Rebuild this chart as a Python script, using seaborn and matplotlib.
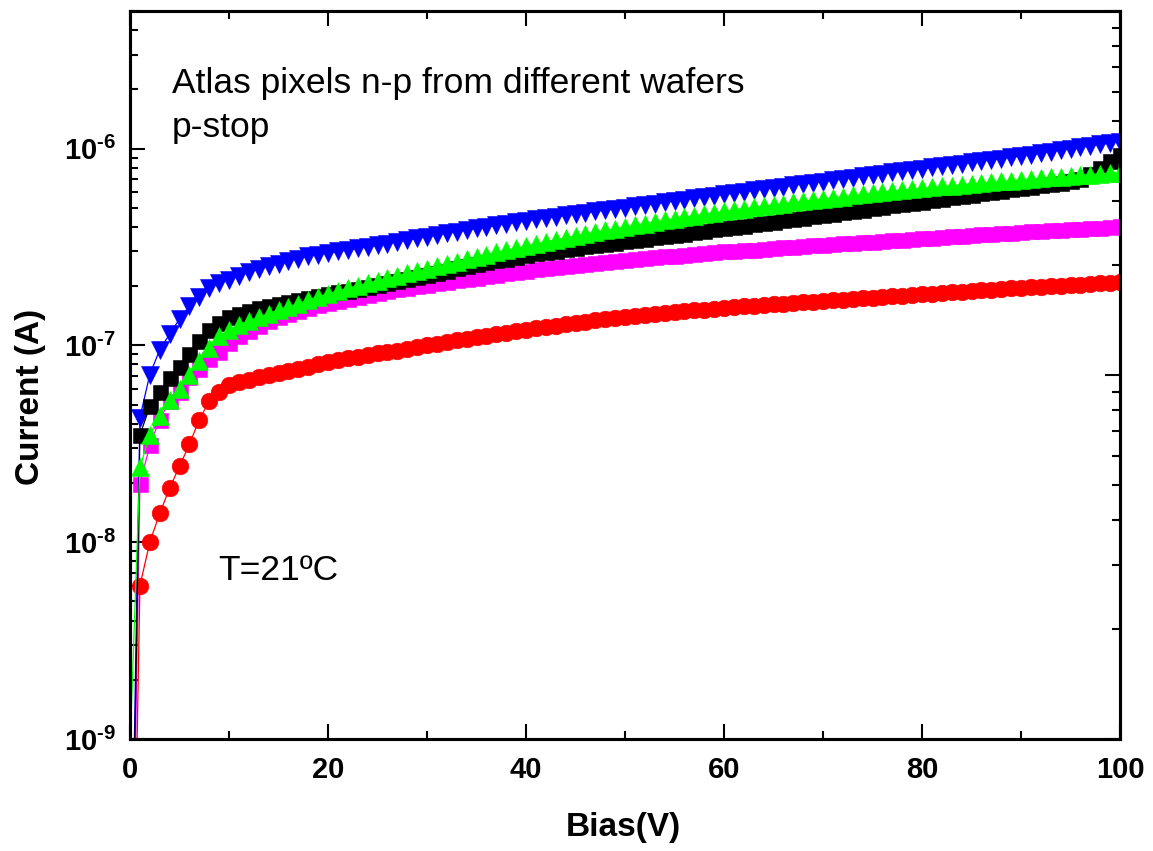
import numpy as np
import pandas as pd
import matplotlib
matplotlib.use("Agg")
import matplotlib.pyplot as plt
import seaborn as sns
from matplotlib.ticker import FixedLocator, LogLocator, MultipleLocator, NullFormatter

# ---------------- data (current in nA, bias in V) ----------------
bias_v = list(range(0, 101))

black_nA = [0.03, 35, 49, 58, 68, 78, 90, 105, 120, 130,
            140, 145, 150, 154, 158, 162, 166, 170, 174, 178,
            182, 186, 190, 194, 198, 203, 208, 213, 218, 223,
            228, 234, 240, 246, 252, 258, 264, 270, 276, 282,
            288, 293, 298, 303, 308, 313, 318, 323, 328, 333,
            338, 343, 348, 354, 359, 365, 370, 376, 382, 388,
            394, 400, 406, 412, 419, 425, 432, 439, 446, 453,
            460, 467, 475, 482, 490, 498, 506, 514, 522, 530,
            538, 547, 556, 565, 574, 583, 592, 602, 611, 621,
            631, 641, 651, 662, 672, 683, 700, 740, 795, 860,
            930]

red_nA = [0.01, 6.0, 10.0, 14.0, 18.8, 24.3, 31.4, 42, 52, 58,
          63, 65, 67, 69, 70.5, 72, 74, 76, 78, 80,
          82, 84, 86, 87.5, 89, 91, 92.5, 94, 96, 98,
          100, 102, 104, 106, 108, 110, 112, 114, 116, 118,
          120, 122, 124, 126, 128, 130, 132, 134, 136, 138,
          140, 141.5, 143, 144.5, 146, 147.5, 149, 150.5, 152, 153.5,
          155, 156.3, 157.6, 158.9, 160.2, 161.5, 162.8, 164.1, 165.4, 166.7,
          168, 169.4, 170.8, 172.2, 173.6, 175, 176.4, 177.8, 179.2, 180.6,
          182, 183.4, 184.8, 186.2, 187.6, 189, 190.4, 191.8, 193.2, 194.6,
          196, 197.3, 198.6, 199.9, 201.2, 202.5, 203.8, 205.1, 206.4, 207.7,
          209]

green_nA = [0.9, 24, 35, 44, 53, 60, 71, 83, 97, 111,
            120, 127, 133, 139, 145, 151, 157, 163, 170, 177,
            183, 189, 195, 201, 207, 213, 219, 225, 232, 238,
            245, 252, 259, 266, 274, 281, 289, 297, 304, 312,
            320, 328, 336, 344, 352, 360, 368, 376, 384, 392,
            400, 408, 416, 424, 432, 440, 448, 456, 464, 472,
            480, 488, 495, 503, 510, 518, 525, 533, 540, 548,
            555, 563, 570, 578, 585, 593, 600, 608, 615, 622,
            628, 635, 642, 648, 655, 661, 668, 675, 681, 688,
            695, 701, 707, 713, 719, 725, 731, 737, 743, 749,
            755]

blue_nA = [0.05, 43, 71, 95, 114, 136, 158, 177, 195, 207,
           216, 226, 235, 244, 252, 260, 268, 276, 283, 289,
           295, 300, 305, 311, 317, 323, 329, 336, 343, 350,
           357, 364, 371, 378, 385, 393, 400, 407, 415, 422,
           430, 437, 444, 451, 458, 465, 472, 479, 486, 493,
           500, 508, 516, 525, 533, 542, 550, 559, 567, 576,
           585, 594, 603, 613, 622, 632, 641, 651, 661, 670,
           680, 691, 701, 712, 723, 734, 745, 756, 767, 779,
           790, 802, 814, 826, 839, 851, 864, 877, 890, 903,
           916, 932, 948, 965, 981, 998, 1015, 1032, 1049, 1067,
           1085]

magenta_nA = [0.02, 19.7, 31, 42, 52, 58, 69, 76, 85, 93,
              103, 111, 119, 126, 133, 139, 145, 150, 155, 160,
              165, 169, 173, 177, 181, 185, 189, 193, 196, 200,
              203, 207, 210, 214, 217, 221, 224, 228, 232, 236,
              240, 243, 246, 250, 253, 256, 259, 262, 266, 269,
              272, 275, 278, 281, 284, 286, 289, 292, 295, 297,
              300, 302, 305, 307, 310, 312, 315, 317, 320, 322,
              325, 327, 330, 332, 335, 337, 340, 342, 345, 347,
              350, 353, 355, 358, 361, 364, 366, 369, 372, 374,
              377, 379, 382, 384, 387, 389, 392, 394, 397, 399,
              402]

y_tick_values = [1e-9, 1e-8, 1e-7, 1e-6]
y_tick_labels = [r"$\mathbf{10^{\text{-}9}}$", r"$\mathbf{10^{\text{-}8}}$",
                 r"$\mathbf{10^{\text{-}7}}$", r"$\mathbf{10^{\text{-}6}}$"]
x_tick_values = [0, 20, 40, 60, 80, 100]
x_tick_labels = ["0", "20", "40", "60", "80", "100"]

title_line1 = "Atlas pixels n-p from different wafers"
title_line2 = "p-stop"
temp_label = "T=21ºC"

# ---------------- style ----------------
sns.set_theme(style="ticks")
plt.rcParams["font.family"] = ["Liberation Sans", "DejaVu Sans"]
plt.rcParams["font.weight"] = "bold"
plt.rcParams["mathtext.fontset"] = "custom"
plt.rcParams["mathtext.rm"] = "Liberation Sans:bold"
plt.rcParams["mathtext.bf"] = "Liberation Sans:bold"

fig = plt.figure(figsize=(11.53, 8.51), dpi=100)
fig.patch.set_facecolor("white")
ax = fig.add_axes([130 / 1153, 1 - 739 / 851, 990 / 1153, 728 / 851])
ax2 = ax.twinx()
ax.set_zorder(2)
ax.patch.set_visible(False)
ax2.set_zorder(1)

series = [
    (magenta_nA, "s", 10.8, "#ff00ff"),
    (red_nA, "o", 12.0, "#ff0000"),
    (blue_nA, "v", 13.5, "#0000ff"),
    (black_nA, "s", 10.8, "#000000"),
    (green_nA, "^", 13.5, "#00ff00"),
]

for vals, mk, ms, col in series:
    df = pd.DataFrame({"Bias": bias_v, "Current": np.array(vals, dtype=float) * 1e-9})
    sns.lineplot(data=df, x="Bias", y="Current", ax=ax, color=col, marker=mk,
                 markersize=ms, markeredgecolor=col, markeredgewidth=0.4,
                 linewidth=0.9, estimator=None, sort=False, errorbar=None)

ax.set_yscale("log")
ax.set_xlim(0, 100)
ax.set_ylim(1e-9, 5e-6)
ax.set_yticks(y_tick_values, y_tick_labels)
ax.yaxis.set_minor_locator(LogLocator(base=10, subs=np.arange(2, 10), numticks=30))
ax.yaxis.set_minor_formatter(NullFormatter())
ax.set_xticks(x_tick_values, x_tick_labels)
ax.xaxis.set_minor_locator(MultipleLocator(10))

ax.tick_params(axis="both", which="major", direction="in", length=11, width=1.5,
               top=True, right=False, labelsize=21, colors="black", pad=9)
ax.tick_params(axis="both", which="minor", direction="in", length=5.5, width=1.5,
               top=True, right=False, colors="black")
ax.tick_params(axis="x", which="major", pad=12)
ax.tick_params(axis="y", which="major", pad=10)

# right-hand axis with its own log ticks (two decades), no labels
ax2.set_yscale("log")
ax2.set_ylim(1, 100)
ax2.yaxis.set_major_locator(FixedLocator([1, 10, 100]))
ax2.yaxis.set_minor_locator(LogLocator(base=10, subs=np.arange(2, 10), numticks=30))
ax2.yaxis.set_major_formatter(NullFormatter())
ax2.yaxis.set_minor_formatter(NullFormatter())
ax2.tick_params(axis="y", which="major", direction="in", length=11, width=1.5,
                right=True, labelright=False, colors="black")
ax2.tick_params(axis="y", which="minor", direction="in", length=5.5, width=1.5,
                right=True, labelright=False, colors="black")
ax2.set_ylabel("")

for a in (ax, ax2):
    for sp in a.spines.values():
        sp.set_visible(True)
        sp.set_color("black")
        sp.set_linewidth(2.2)

ax.set_xlabel("Bias(V)", fontsize=24, fontweight="bold", color="black")
ax.xaxis.set_label_coords(0.498, -0.100)
ax.set_ylabel("Current (A)", fontsize=24, fontweight="bold", color="black")
ax.yaxis.set_label_coords(-0.085, 0.47)

ax.text(0.0424, 0.887, title_line1, transform=ax.transAxes, fontsize=25.5,
        fontweight="normal", ha="left", va="baseline", color="black")
ax.text(0.0424, 0.827, title_line2, transform=ax.transAxes, fontsize=25.5,
        fontweight="normal", ha="left", va="baseline", color="black")
ax.text(0.0889, 0.2184, temp_label, transform=ax.transAxes, fontsize=25.5,
        fontweight="normal", ha="left", va="baseline", color="black")

fig.savefig("out.png", dpi=100, facecolor="white")
